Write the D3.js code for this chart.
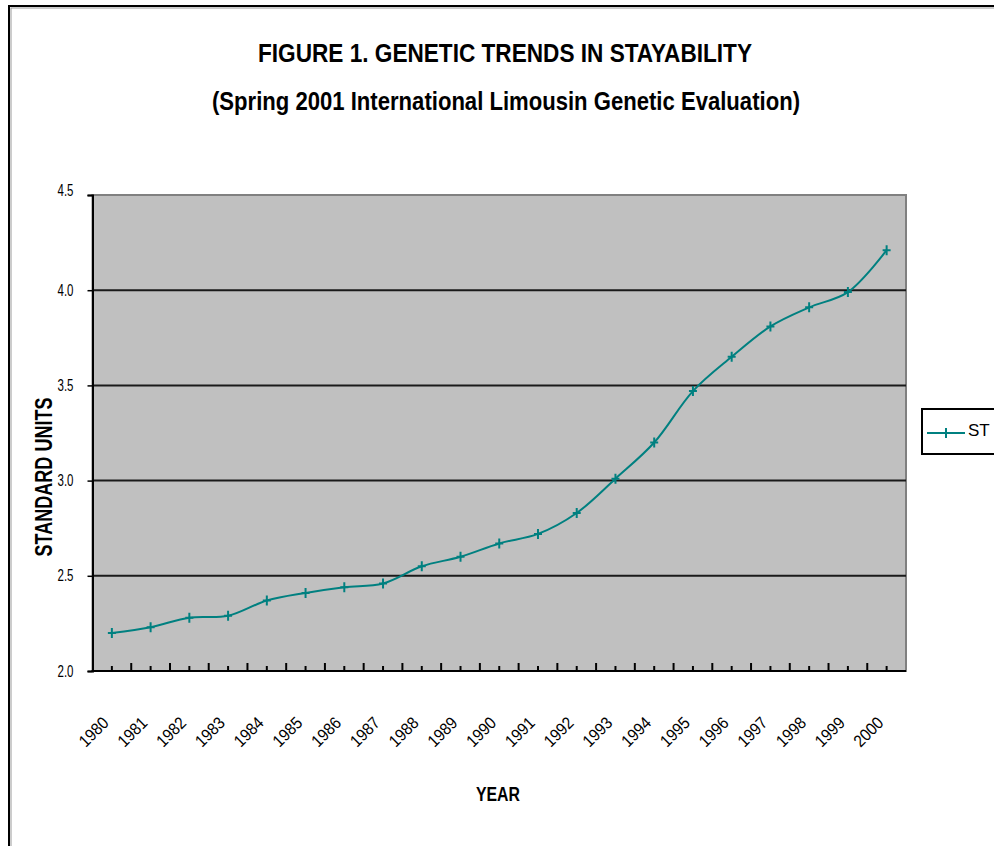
<!DOCTYPE html>
<html>
<head>
<meta charset="utf-8">
<script src="https://cdn.jsdelivr.net/npm/d3@7"></script>
<style>
	body { margin: 0; background: #fff; }
	svg { display: block; font-family: "Liberation Sans", Arial, sans-serif; }
</style>
</head>
<body>
<div id="chart"></div>
<script>
// Data
var years = ["1980", "1981", "1982", "1983", "1984", "1985", "1986", "1987", "1988", "1989", "1990",
		"1991", "1992", "1993", "1994", "1995", "1996", "1997", "1998", "1999", "2000"];
var stValues = [2.20, 2.23, 2.28, 2.29, 2.37, 2.41, 2.44, 2.46, 2.55, 2.60, 2.67,
		2.72, 2.83, 3.01, 3.20, 3.47, 3.65, 3.81, 3.91, 3.99, 4.21];
var yTicks = [2.0, 2.5, 3.0, 3.5, 4.0, 4.5];
var seriesName = "ST";
var titleText = "FIGURE 1. GENETIC TRENDS IN STAYABILITY";
var subtitleText = "(Spring 2001 International Limousin Genetic Evaluation)";

function lineChart() {
	var width = 994,
			height = 846,
			plot = {left: 92.5, right: 906, top: 195, bottom: 671},
			lineColor = "#008080";

	var data = years.map(function(y, i) { return {year: y, value: stValues[i]}; });

	var svg = d3.select("#chart").append("svg")
			.attr("width", width)
			.attr("height", height);

	// Outer frame (runs off the right and bottom edge)
	svg.append("rect")
			.attr("x", 9).attr("y", 6)
			.attr("width", 1100).attr("height", 1000)
			.style("fill", "none").style("stroke", "#000").style("stroke-width", 2);
	svg.append("rect")
			.attr("x", 11).attr("y", 8)
			.attr("width", 1100).attr("height", 1000)
			.style("fill", "none").style("stroke", "#999").style("stroke-width", 1);

	// Titles
	svg.append("text")
			.attr("x", 505).attr("y", 62)
			.attr("text-anchor", "middle")
			.attr("textLength", 494).attr("lengthAdjust", "spacingAndGlyphs")
			.style("font-size", "26px").style("font-weight", "bold")
			.text(titleText);
	svg.append("text")
			.attr("x", 506).attr("y", 110)
			.attr("text-anchor", "middle")
			.attr("textLength", 588).attr("lengthAdjust", "spacingAndGlyphs")
			.style("font-size", "26px").style("font-weight", "bold")
			.text(subtitleText);

	// Scales
	var xScale = d3.scaleBand().domain(years).range([plot.left, plot.right]).padding(0);
	var yScale = d3.scaleLinear().domain([2, 4.5]).range([plot.bottom, plot.top]);
	var cx = function(d) { return xScale(d.year) + xScale.bandwidth() / 2; };

	// Plot area
	svg.append("rect")
			.attr("x", plot.left).attr("y", plot.top)
			.attr("width", plot.right - plot.left).attr("height", plot.bottom - plot.top)
			.style("fill", "#c0c0c0").style("stroke", "#808080").style("stroke-width", 2);

	// Grid lines
	svg.append("g").attr("class", "grid")
		.selectAll("line")
		.data(yTicks.slice(1, -1))
		.enter().append("line")
			.attr("x1", plot.left).attr("x2", plot.right)
			.attr("y1", function(d) { return yScale(d); })
			.attr("y2", function(d) { return yScale(d); })
			.style("stroke", "#1a1a1a").style("stroke-width", 2);

	// Y axis
	var yAxis = d3.axisLeft(yScale).tickValues(yTicks).tickSize(5).tickPadding(14)
			.tickFormat(d3.format(".1f"));
	var gy = svg.append("g")
			.attr("transform", "translate(" + plot.left + ",0)")
			.call(yAxis);
	gy.select(".domain").style("stroke", "#000").style("stroke-width", 2);
	gy.selectAll(".tick line").style("stroke", "#000").style("stroke-width", 1.5);
	gy.selectAll(".tick text")
			.attr("textLength", 16).attr("lengthAdjust", "spacingAndGlyphs")
			.style("font-size", "16px").style("fill", "#000");
	gy.select(".tick:last-of-type text").attr("dy", "0.05em");

	// X axis: long ticks between categories, short ticks at the category centres
	var gx = svg.append("g").attr("class", "x axis");
	gx.selectAll(".major")
		.data(years.slice(1))
		.enter().append("line")
			.attr("x1", function(d) { return xScale(d); })
			.attr("x2", function(d) { return xScale(d); })
			.attr("y1", plot.bottom).attr("y2", plot.bottom - 8)
			.style("stroke", "#000").style("stroke-width", 2);
	gx.selectAll(".minor")
		.data(data)
		.enter().append("line")
			.attr("x1", cx).attr("x2", cx)
			.attr("y1", plot.bottom).attr("y2", plot.bottom - 5)
			.style("stroke", "#000").style("stroke-width", 2);
	gx.append("line")
			.attr("x1", plot.left - 1).attr("x2", plot.right)
			.attr("y1", plot.bottom).attr("y2", plot.bottom)
			.style("stroke", "#000").style("stroke-width", 2);
	gx.selectAll("text")
		.data(data)
		.enter().append("text")
			.attr("transform", function(d) { return "translate(" + (cx(d) - 2) + "," + (plot.bottom + 53) + ") rotate(-45)"; })
			.attr("text-anchor", "end")
			.attr("textLength", 34).attr("lengthAdjust", "spacingAndGlyphs")
			.style("font-size", "17px")
			.text(function(d) { return d.year; });

	// Axis titles
	svg.append("text")
			.attr("x", 498).attr("y", 801)
			.attr("text-anchor", "middle")
			.attr("textLength", 44).attr("lengthAdjust", "spacingAndGlyphs")
			.style("font-size", "20px").style("font-weight", "bold")
			.text("YEAR");
	svg.append("text")
			.attr("transform", "translate(52,477) rotate(-90)")
			.attr("text-anchor", "middle")
			.attr("textLength", 159).attr("lengthAdjust", "spacingAndGlyphs")
			.style("font-size", "24px").style("font-weight", "bold")
			.text("STANDARD UNITS");

	// Line
	var line = d3.line()
			.x(cx)
			.y(function(d) { return yScale(d.value); })
			.curve(d3.curveCatmullRom.alpha(0.5));

	svg.append("path")
			.datum(data)
			.attr("d", line)
			.style("fill", "none").style("stroke", lineColor).style("stroke-width", 2);

	// "+" markers
	var plus = "M-4,0H4M0,-5V5";
	svg.append("g").selectAll("path")
		.data(data)
		.enter().append("path")
			.attr("transform", function(d) { return "translate(" + cx(d) + "," + yScale(d.value) + ")"; })
			.attr("d", plus)
			.style("fill", "none").style("stroke", lineColor).style("stroke-width", 2);

	// Legend
	var legend = svg.append("g").attr("class", "legend");
	legend.append("rect")
			.attr("x", 922).attr("y", 409)
			.attr("width", 100).attr("height", 45)
			.style("fill", "#fff").style("stroke", "#000").style("stroke-width", 2);
	legend.append("line")
			.attr("x1", 927).attr("x2", 965)
			.attr("y1", 433).attr("y2", 433)
			.style("stroke", lineColor).style("stroke-width", 2);
	legend.append("path")
			.attr("transform", "translate(946,433)")
			.attr("d", plus)
			.style("fill", "none").style("stroke", lineColor).style("stroke-width", 2);
	legend.append("text")
			.attr("x", 968).attr("y", 436)
			.style("font-size", "17px")
			.text(seriesName);
}

lineChart();
</script>
</body>
</html>
